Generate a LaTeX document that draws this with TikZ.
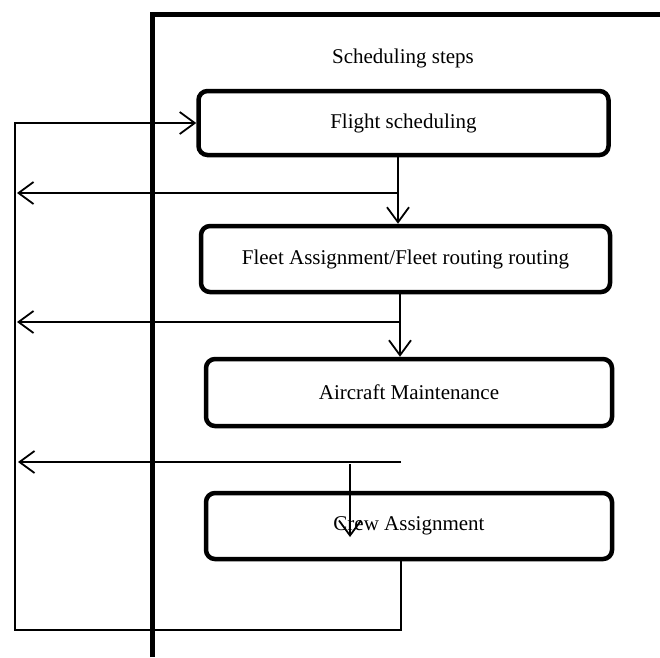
\documentclass[tikz,border=0pt]{standalone}
\usepackage{fontspec}
\setmainfont{Liberation Serif}
\usetikzlibrary{arrows.meta}
\begin{document}
\begin{tikzpicture}[x=1pt,y=-1pt,
  stepbox/.style={draw, line width=4.5pt, rounded corners=9pt, inner sep=0pt, fill=white,
    font=\fontsize{21}{25}\selectfont},
  conn/.style={line width=1.8pt},
  arr/.style={conn, -{Straight Barb[length=15pt,width=22pt]}},
  frame/.style={line width=5pt, line join=miter}]
\useasboundingbox (0,0) rectangle (660,657);
% frame
\draw[frame] (152,657) -- (152,14) -- (660,14);
\node[font=\fontsize{21}{25}\selectfont] (title) at (403,58) {Scheduling steps};
% boxes
\node[stepbox, minimum width=410pt, minimum height=64pt] (b1) at (403.5,123) {Flight scheduling};
\node[stepbox, minimum width=409pt, minimum height=66pt] (b2) at (405.5,259) {Fleet Assignment/Fleet routing routing};
\node[stepbox, minimum width=406pt, minimum height=67pt] (b3) at (409,392.5) {Aircraft Maintenance};
\node[stepbox, minimum width=406pt, minimum height=66pt] (b4) at (409,526) {Crew Assignment};
% coordinates
\coordinate (j1) at (398,193);
\coordinate (l1) at (17,193);
\coordinate (j2) at (400,322);
\coordinate (l2) at (17,322);
\coordinate (r3) at (401,462);
\coordinate (l3) at (18,462);
\coordinate (d3) at (350,464);
\coordinate (e3) at (350,537);
\coordinate (bl) at (15,630);
\coordinate (tl) at (15,123);
% connectors
\draw[arr] (b1.south -| j1) -- (b2.north -| j1);
\draw[arr] (j1) -- (l1);
\draw[arr] (b2.south -| j2) -- (b3.north -| j2);
\draw[arr] (j2) -- (l2);
\draw[arr] (r3) -- (l3);
\draw[arr] (d3) -- (e3);
\draw[arr] (b4.south -| r3) |- (bl) -- (tl) -- (b1.west);
\end{tikzpicture}
\end{document}
